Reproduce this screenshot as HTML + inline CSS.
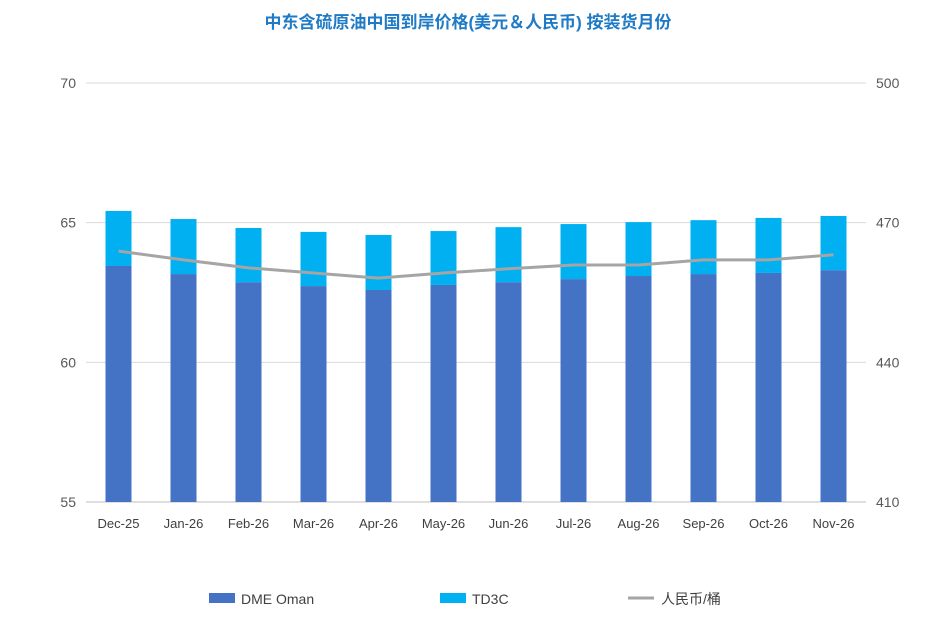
<!DOCTYPE html>
<html><head><meta charset="utf-8">
<style>
body{margin:0;background:#fff;font-family:"Liberation Sans","Noto Sans CJK SC",sans-serif;}
svg text{font-family:"Liberation Sans","Noto Sans CJK SC",sans-serif;}
</style></head>
<body>
<svg id="chart" width="937" height="634" xmlns="http://www.w3.org/2000/svg">
<text x="468" y="28" text-anchor="middle" font-size="17" font-weight="bold" fill="#1f7bc6">中东含硫原油中国到岸价格(美元＆人民币) 按装货月份</text>
<g id="grid"></g><g id="bars"></g><g id="line"></g><g id="axes"></g>
<g>
<rect x="209" y="593" width="26" height="10" fill="#4472c4"/>
<text x="241" y="604" font-size="14" fill="#404040">DME Oman</text>
<rect x="440" y="593" width="26" height="10" fill="#00b0f0"/>
<text x="472" y="604" font-size="14" fill="#404040">TD3C</text>
<line x1="628" y1="598" x2="654" y2="598" stroke="#a5a5a5" stroke-width="3"/>
<text x="661" y="604" font-size="14" fill="#404040">人民币/桶</text>
</g>
</svg>
<script>
const categories=["Dec-25","Jan-26","Feb-26","Mar-26","Apr-26","May-26","Jun-26","Jul-26","Aug-26","Sep-26","Oct-26","Nov-26"];
const dmeOman=[63.45,63.16,62.87,62.73,62.59,62.77,62.87,62.98,63.09,63.16,63.20,63.30];
const totalTop=[65.42,65.13,64.81,64.67,64.56,64.70,64.84,64.95,65.02,65.09,65.17,65.24];
const rmbPerBarrel=[463.9,462.0,460.3,459.2,458.1,459.2,460.1,460.9,460.9,462.0,462.0,463.1];
const leftTicks=[55,60,65,70];
const rightTicks=[410,440,470,500];
const NS="http://www.w3.org/2000/svg";
const X0=86,X1=866,Y0=502,Y1=83;
const yL=v=>Y0-(v-55)/15*(Y0-Y1);
const yR=v=>Y0-(v-410)/90*(Y0-Y1);
const bw=(X1-X0)/categories.length;
const xc=i=>X0+bw*(i+0.5);
function mk(t,a,p){const e=document.createElementNS(NS,t);for(const k in a)e.setAttribute(k,a[k]);p.appendChild(e);return e;}
const grid=document.getElementById('grid'),axes=document.getElementById('axes'),bars=document.getElementById('bars'),line=document.getElementById('line');
leftTicks.forEach((v,i)=>{
 const g=mk('line',{x1:X0,x2:X1,y1:yL(v),y2:yL(v),stroke:v===55?'#bfbfbf':'#d9d9d9','stroke-width':1},grid);
 
 
 const t=mk('text',{x:76,y:yL(v)+5,'text-anchor':'end','font-size':14,fill:'#595959'},axes);t.textContent=v;
 
 
});
rightTicks.forEach(v=>{
 const t=mk('text',{x:876,y:yR(v)+5,'font-size':14,fill:'#595959'},axes);t.textContent=v;
 
 
});
categories.forEach((c,i)=>{
 const x=xc(i)-13;
 const b1=mk('rect',{x:x,y:yL(dmeOman[i]),width:26,height:Y0-yL(dmeOman[i]),fill:'#4472c4'},bars);
 
 
 const b2=mk('rect',{x:x,y:yL(totalTop[i]),width:26,height:yL(dmeOman[i])-yL(totalTop[i]),fill:'#00b0f0'},bars);
 
 
 const t=mk('text',{x:xc(i),y:528,'text-anchor':'middle','font-size':13,fill:'#404040'},axes);t.textContent=c;
 
 
});
const pts=rmbPerBarrel.map((v,i)=>xc(i)+','+yR(v)).join(' ');
const pl=mk('polyline',{points:pts,fill:'none',stroke:'#a5a5a5','stroke-width':3,'stroke-linejoin':'round'},line);


</script>
</body></html>
